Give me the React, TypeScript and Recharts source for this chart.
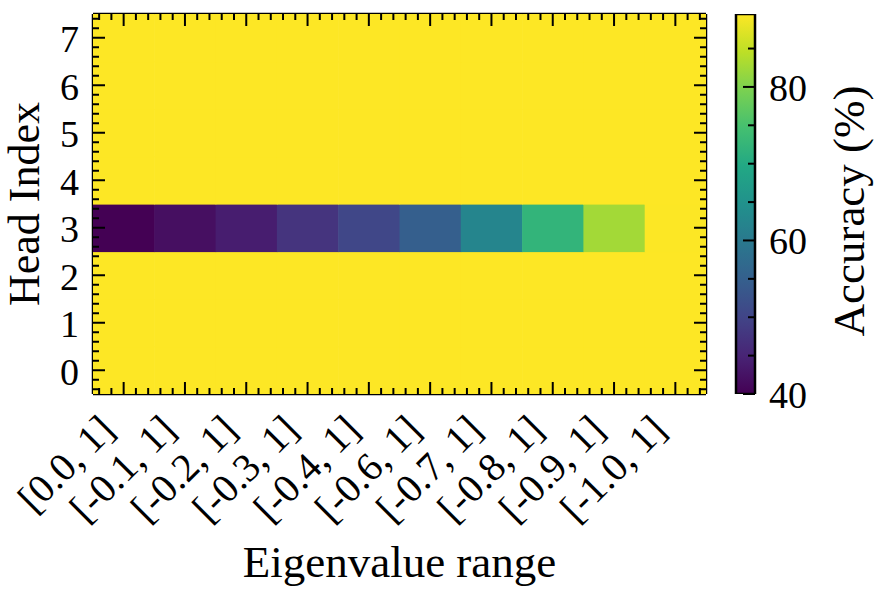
import { ScatterChart, Scatter, XAxis, YAxis, BarChart, Bar, Label } from 'recharts';

const rangeLabels = ['[0.0, 1]', '[-0.1, 1]', '[-0.2, 1]', '[-0.3, 1]', '[-0.4, 1]', '[-0.6, 1]', '[-0.7, 1]', '[-0.8, 1]', '[-0.9, 1]', '[-1.0, 1]'];
const headIndex = [0, 1, 2, 3, 4, 5, 6, 7];

// accuracy (%) for each head, one value per eigenvalue range
const head0 = [89.5, 89.5, 89.5, 89.5, 89.5, 89.5, 89.5, 89.5, 89.5, 89.5];
const head1 = [89.5, 89.5, 89.5, 89.5, 89.5, 89.5, 89.5, 89.5, 89.5, 89.5];
const head2 = [89.5, 89.5, 89.5, 89.5, 89.5, 89.5, 89.5, 89.5, 89.5, 89.5];
const head3 = [40.0, 42.0, 44.0, 47.4, 50.4, 54.9, 62.3, 72.2, 82.6, 89.4];
const head4 = [89.5, 89.5, 89.5, 89.5, 89.5, 89.5, 89.5, 89.5, 89.5, 89.5];
const head5 = [89.5, 89.5, 89.5, 89.5, 89.5, 89.5, 89.5, 89.5, 89.5, 89.5];
const head6 = [89.5, 89.5, 89.5, 89.5, 89.5, 89.5, 89.5, 89.5, 89.5, 89.5];
const head7 = [89.5, 89.5, 89.5, 89.5, 89.5, 89.5, 89.5, 89.5, 89.5, 89.5];
const accuracyByHead = [head0, head1, head2, head3, head4, head5, head6, head7];

const COLOR_MIN = 40;
const COLOR_MAX = 89.5;
const colorbarTicks = [40, 45, 50, 55, 60, 65, 70, 75, 80, 85];
const colorbarLabels = [40, 60, 80];

const viridisStops = ['#440154', '#482475', '#414487', '#355f8d', '#2a788e', '#21918c', '#22a884', '#44bf70', '#7ad151', '#bddf26', '#fde725'];

const W = 888;
const H = 605;
const PLOT = { left: 93, top: 14, right: 706, bottom: 394 };
const CB = { left: 736, right: 755 };
const cellW = (PLOT.right - PLOT.left) / rangeLabels.length;
const cellH = (PLOT.bottom - PLOT.top) / headIndex.length;
const MAJOR = 12;
const MINOR = 6;
const serif = '"Liberation Serif", "Times New Roman", serif';
const ink = '#000';

function hexToRgb(h: string) {
  return [1, 3, 5].map((i) => parseInt(h.slice(i, i + 2), 16));
}

function viridis(v: number) {
  const t = Math.min(1, Math.max(0, (v - COLOR_MIN) / (COLOR_MAX - COLOR_MIN))) * (viridisStops.length - 1);
  const i = Math.min(Math.floor(t), viridisStops.length - 2);
  const f = t - i;
  const a = hexToRgb(viridisStops[i]);
  const b = hexToRgb(viridisStops[i + 1]);
  const c = a.map((x, k) => Math.round(x + (b[k] - x) * f));
  return `rgb(${c[0]},${c[1]},${c[2]})`;
}

const cells = headIndex.flatMap((h) =>
  rangeLabels.map((_, c) => ({ col: c, head: h, acc: accuracyByHead[h][c], color: viridis(accuracyByHead[h][c]) }))
);

// tick positions every 0.2 (minor) with majors on the integers
const xTicks: number[] = [];
for (let k = -2; k <= rangeLabels.length * 5 - 3; k++) xTicks.push(k / 5);
const yTicks: number[] = [];
for (let k = -2; k <= headIndex.length * 5 - 3; k++) yTicks.push(k / 5);
const isMajor = (v: number) => Math.abs(v - Math.round(v)) < 1e-6;

const BottomTick = (p: any) => {
  const v = p.payload.value;
  const major = isMajor(v);
  const ax = p.x - 7;
  const ay = p.y + 38;
  return (
    <g>
      <line x1={p.x} x2={p.x} y1={p.y} y2={p.y - (major ? MAJOR : MINOR)} stroke={ink} strokeWidth={2} />
      {major && (
        <text x={ax} y={ay} transform={`rotate(-45 ${ax} ${ay})`} textAnchor="end" fontSize={40} fontFamily={serif} fill={ink}>
          {rangeLabels[Math.round(v)]}
        </text>
      )}
    </g>
  );
};

const TopTick = (p: any) => {
  const major = isMajor(p.payload.value);
  return <line x1={p.x} x2={p.x} y1={p.y} y2={p.y + (major ? MAJOR : MINOR)} stroke={ink} strokeWidth={2} />;
};

const LeftTick = (p: any) => {
  const v = p.payload.value;
  const major = isMajor(v);
  return (
    <g>
      <line x1={p.x} x2={p.x + (major ? MAJOR : MINOR)} y1={p.y} y2={p.y} stroke={ink} strokeWidth={2} />
      {major && (
        <text x={p.x - 14} y={p.y} dy="0.38em" textAnchor="end" fontSize={38} fontFamily={serif} fill={ink}>
          {headIndex[Math.round(v)]}
        </text>
      )}
    </g>
  );
};

const RightTick = (p: any) => {
  const major = isMajor(p.payload.value);
  return <line x1={p.x} x2={p.x - (major ? MAJOR : MINOR)} y1={p.y} y2={p.y} stroke={ink} strokeWidth={2} />;
};

const ColorbarTick = (p: any) => {
  const v = p.payload.value;
  const major = colorbarLabels.includes(v);
  return (
    <g>
      <line x1={p.x} x2={p.x - (major ? 12 : 7)} y1={p.y} y2={p.y} stroke={ink} strokeWidth={2} />
      {major && (
        <text x={p.x + 14} y={p.y} dy="0.36em" textAnchor="start" fontSize={38} fontFamily={serif} fill={ink}>
          {v}
        </text>
      )}
    </g>
  );
};

const CellShape = (p: any) => (
  <rect x={p.cx - cellW / 2} y={p.cy - cellH / 2} width={cellW + 0.6} height={cellH + 0.6} fill={p.payload.color} />
);

const frame = { stroke: ink, strokeWidth: 2.5 };

export default function App() {
  const midX = (PLOT.left + PLOT.right) / 2;
  const midY = (PLOT.top + PLOT.bottom) / 2;
  return (
    <div style={{ position: 'absolute', left: 0, top: 0, width: W, height: H, background: '#fff' }}>
      <div style={{ position: 'absolute', left: 0, top: 0 }}>
        <ScatterChart
          width={W}
          height={H}
          margin={{ top: PLOT.top - 1, left: PLOT.left - 1, right: W - PLOT.right - 1, bottom: H - PLOT.bottom - 1 }}
        >
          <Scatter data={cells} dataKey="head" xAxisId="bottom" yAxisId="left" shape={CellShape} isAnimationActive={false} />
          <Scatter data={cells} dataKey="head" xAxisId="top" yAxisId="right" shape={() => <g />} isAnimationActive={false} />
          <XAxis
            xAxisId="bottom"
            dataKey="col"
            type="number"
            domain={[-0.5, rangeLabels.length - 0.5]}
            allowDataOverflow
            ticks={xTicks}
            interval={0}
            height={1}
            tickSize={0}
            tickMargin={0}
            tickLine={false}
            axisLine={frame}
            tick={BottomTick}
          >
            <Label
              content={() => (
                <text x={midX} y={577} textAnchor="middle" fontSize={45} fontFamily={serif} fill={ink}>
                  Eigenvalue range
                </text>
              )}
            />
          </XAxis>
          <XAxis
            xAxisId="top"
            orientation="top"
            dataKey="col"
            type="number"
            domain={[-0.5, rangeLabels.length - 0.5]}
            allowDataOverflow
            ticks={xTicks}
            interval={0}
            height={1}
            tickSize={0}
            tickMargin={0}
            tickLine={false}
            axisLine={frame}
            tick={TopTick}
          />
          <YAxis
            yAxisId="left"
            dataKey="head"
            type="number"
            domain={[-0.5, headIndex.length - 0.5]}
            allowDataOverflow
            ticks={yTicks}
            interval={0}
            width={1}
            tickSize={0}
            tickMargin={0}
            tickLine={false}
            axisLine={frame}
            tick={LeftTick}
          >
            <Label
              content={() => (
                <text x={39} y={midY} transform={`rotate(-90 39 ${midY})`} textAnchor="middle" fontSize={44} fontFamily={serif} fill={ink}>
                  Head Index
                </text>
              )}
            />
          </YAxis>
          <YAxis
            yAxisId="right"
            orientation="right"
            dataKey="head"
            type="number"
            domain={[-0.5, headIndex.length - 0.5]}
            allowDataOverflow
            ticks={yTicks}
            interval={0}
            width={1}
            tickSize={0}
            tickMargin={0}
            tickLine={false}
            axisLine={frame}
            tick={RightTick}
          />
        </ScatterChart>
      </div>
      <div style={{ position: 'absolute', left: 0, top: 0 }}>
        <BarChart
          width={W}
          height={H}
          data={[{ name: 'accuracy', range: COLOR_MAX }]}
          margin={{ top: PLOT.top, left: CB.left, right: W - CB.right - 1, bottom: H - PLOT.bottom }}
          barCategoryGap={0}
        >
          <defs>
            <linearGradient id="viridis" x1="0" y1="1" x2="0" y2="0">
              {viridisStops.map((c, i) => (
                <stop key={c} offset={`${(i / (viridisStops.length - 1)) * 100}%`} stopColor={c} />
              ))}
            </linearGradient>
          </defs>
          <XAxis dataKey="name" hide />
          <Bar dataKey="range" fill="url(#viridis)" stroke={ink} strokeWidth={2.5} isAnimationActive={false} />
          <YAxis
            orientation="right"
            type="number"
            domain={[COLOR_MIN, COLOR_MAX]}
            allowDataOverflow
            ticks={colorbarTicks}
            interval={0}
            width={1}
            tickSize={0}
            tickMargin={0}
            tickLine={false}
            axisLine={false}
            tick={ColorbarTick}
          >
            <Label
              content={() => (
                <text x={864} y={211} transform={`rotate(-90 864 211)`} textAnchor="middle" fontSize={45} fontFamily={serif} fill={ink}>
                  Accuracy (%)
                </text>
              )}
            />
          </YAxis>
        </BarChart>
      </div>
    </div>
  );
}
